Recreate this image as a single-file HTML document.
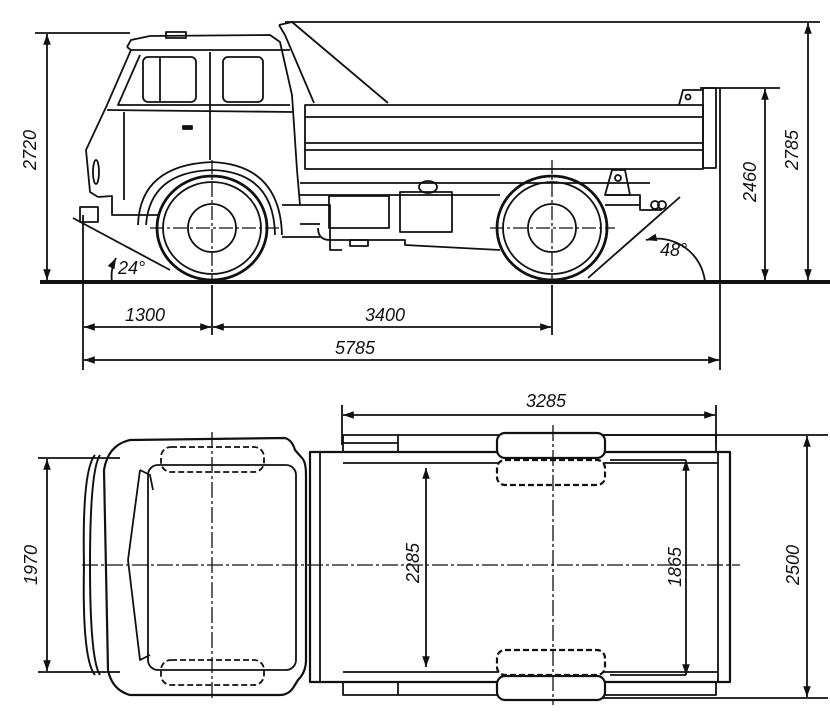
<!DOCTYPE html>
<html><head><meta charset="utf-8"><style>
html,body{margin:0;padding:0;background:#fff}
svg{display:block}
text{font-family:"Liberation Sans",sans-serif;font-style:italic;font-size:18px;fill:#111}
</style></head><body>
<svg width="830" height="722" viewBox="0 0 830 722" xmlns="http://www.w3.org/2000/svg">
<defs>
<marker id="a" viewBox="0 0 10 10" refX="10" refY="5" markerWidth="9" markerHeight="6" orient="auto-start-reverse"><path d="M0,1.5 L10,5 L0,8.5 z" fill="#111"/></marker>
</defs>
<g stroke="#111" fill="none" stroke-width="1.8" stroke-linejoin="round">
<!-- ===== SIDE VIEW ===== -->
<line x1="40" y1="282" x2="830" y2="282" stroke-width="4"/>
<line x1="35" y1="33" x2="130" y2="33"/>
<line x1="285" y1="22" x2="820" y2="22"/>
<line x1="700" y1="88" x2="780" y2="88"/>
<line x1="720" y1="88" x2="720" y2="370"/>
<line x1="83" y1="215" x2="83" y2="370"/>
<line x1="212" y1="285" x2="212" y2="335"/>
<line x1="552" y1="285" x2="552" y2="335"/>
<line x1="47" y1="34" x2="47" y2="280" marker-start="url(#a)" marker-end="url(#a)"/>
<line x1="765" y1="89" x2="765" y2="280" marker-start="url(#a)" marker-end="url(#a)"/>
<line x1="808" y1="23" x2="808" y2="280" marker-start="url(#a)" marker-end="url(#a)"/>
<line x1="84" y1="327" x2="211" y2="327" marker-start="url(#a)" marker-end="url(#a)"/>
<line x1="213" y1="327" x2="551" y2="327" marker-start="url(#a)" marker-end="url(#a)"/>
<line x1="84" y1="360" x2="719" y2="360" marker-start="url(#a)" marker-end="url(#a)"/>
<!-- cab -->
<path d="M127,47 L131,40 L150,36 L270,35 L280,42 L292,95 L297,170 L300,205"/>
<path d="M131,50 L107,105 L86,150 L90,192 L98,197"/>
<path d="M127,47 L131,50 L290,50"/>
<rect x="166" y="32" width="20" height="6"/>
<path d="M140,55 L118,105 L290,105"/>
<path d="M107,110 L293,112"/>
<rect x="143" y="57" width="53" height="45" rx="5"/>
<rect x="223" y="57" width="40" height="45" rx="5"/>
<line x1="160" y1="58" x2="160" y2="101"/>
<line x1="210" y1="52" x2="210" y2="160"/>
<line x1="124" y1="112" x2="124" y2="200"/>
<rect x="183" y="126" width="9" height="3" fill="#111"/>
<ellipse cx="96" cy="172" rx="3" ry="12"/>
<path d="M98,197 L112,196 L112,215 L160,215"/>
<rect x="80" y="207" width="18" height="15"/>
<path d="M138,225 Q140,165 212,162 Q280,165 282,235"/>
<path d="M146,225 Q150,172 212,170 Q274,172 275,235"/>
<path d="M279,25 L292,22 L388,103 M279,25 L285,35 L314,103"/>
<rect x="305" y="105" width="398" height="64"/>
<line x1="305" y1="117" x2="703" y2="117"/>
<line x1="305" y1="143" x2="703" y2="143"/>
<line x1="305" y1="150" x2="703" y2="150"/>
<rect x="703" y="88" width="13" height="80"/>
<path d="M679,105 L683,90 L703,90"/>
<circle cx="688" cy="97" r="2.5"/>
<path d="M300,183 L650,183 M300,195 L500,195 M282,205 L330,205 L330,250 L342,250 M282,237 L320,237 M300,224 L320,224"/>
<rect x="329" y="196" width="60" height="32"/>
<rect x="400" y="192" width="52" height="40"/>
<ellipse cx="428" cy="187" rx="9" ry="6"/>
<path d="M318,228 Q318,240 330,240 L405,240 L405,245 L500,250"/>
<rect x="350" y="240" width="18" height="6"/>
<path d="M605,195 L640,195 L640,210 L662,210 M605,205 L640,205"/>
<path d="M605,195 L612,170 L625,170 L630,195 Z"/>
<circle cx="618" cy="178" r="3"/>
<circle cx="655" cy="205" r="4"/>
<circle cx="662" cy="205" r="4"/>
<ellipse cx="212" cy="228" rx="55" ry="52" stroke-width="2.8"/>
<ellipse cx="212" cy="228" rx="49" ry="46"/>
<ellipse cx="212" cy="228" rx="24" ry="24"/>
<ellipse cx="552" cy="228" rx="55" ry="52" stroke-width="2.8"/>
<ellipse cx="552" cy="228" rx="49" ry="46"/>
<ellipse cx="552" cy="228" rx="24" ry="24"/>
<g stroke-dasharray="14,3,3,3" stroke-width="1.3">
<line x1="150" y1="228" x2="280" y2="228"/>
<line x1="490" y1="228" x2="615" y2="228"/>
<line x1="212" y1="160" x2="212" y2="282"/>
<line x1="552" y1="160" x2="552" y2="282"/>
</g>
<line x1="73" y1="218" x2="170" y2="270"/>
<line x1="680" y1="197" x2="588" y2="278"/>
<path d="M112,282 A40,40 0 0 1 116,258" marker-end="url(#a)"/>
<path d="M705,282 A48,48 0 0 0 646,240" marker-end="url(#a)"/>

<!-- ===== TOP VIEW ===== -->
<line x1="342" y1="405" x2="342" y2="445"/>
<line x1="716" y1="405" x2="716" y2="445"/>
<line x1="343" y1="415" x2="715" y2="415" marker-start="url(#a)" marker-end="url(#a)"/>
<line x1="38" y1="458" x2="120" y2="458"/>
<line x1="38" y1="672" x2="120" y2="672"/>
<line x1="47" y1="459" x2="47" y2="671" marker-start="url(#a)" marker-end="url(#a)"/>
<line x1="600" y1="435" x2="828" y2="435"/>
<line x1="600" y1="698" x2="828" y2="698"/>
<line x1="807" y1="436" x2="807" y2="697" marker-start="url(#a)" marker-end="url(#a)"/>
<line x1="426" y1="468" x2="426" y2="667" marker-start="url(#a)" marker-end="url(#a)"/>
<line x1="686" y1="460" x2="686" y2="675" marker-start="url(#a)" marker-end="url(#a)"/>
<line x1="686" y1="460" x2="610" y2="460"/>
<line x1="686" y1="675" x2="610" y2="675"/>
<path d="M130,440 L285,438 Q292,440 295,450 L302,458 Q306,462 306,475 L306,660 Q306,672 298,680 L293,688 Q288,695 280,695 L130,695 Q112,690 108,670 L104,470 Q108,445 130,440 Z" stroke-width="2.2"/>
<rect x="148" y="465" width="148" height="205" rx="10"/>
<path d="M140,470 L150,475 L153,490 M140,470 L128,560 L140,660 L150,655"/>
<path d="M95,455 Q82,470 84,565 Q82,660 95,675 M100,455 Q90,470 90,565 Q90,660 100,675" stroke-width="2"/>
<rect x="161" y="447" width="103" height="25" rx="10" stroke-dasharray="6,3"/>
<rect x="161" y="660" width="103" height="25" rx="10" stroke-dasharray="6,3"/>
<rect x="310" y="452" width="420" height="230" stroke-width="2.2"/>
<rect x="320" y="452" width="398" height="230"/>
<line x1="343" y1="463" x2="718" y2="463"/>
<line x1="343" y1="672" x2="718" y2="672"/>
<rect x="343" y="435" width="373" height="17"/>
<rect x="343" y="682" width="373" height="13"/>
<line x1="343" y1="443" x2="398" y2="443"/>
<line x1="398" y1="435" x2="398" y2="452"/>
<line x1="398" y1="682" x2="398" y2="695"/>
<g fill="#fff" stroke-width="2.2">
<rect x="497" y="433" width="108" height="25" rx="8"/>
<rect x="497" y="460" width="108" height="25" rx="8" stroke-dasharray="6,3"/>
<rect x="497" y="650" width="108" height="25" rx="8" stroke-dasharray="6,3"/>
<rect x="497" y="676" width="108" height="24" rx="8"/>
</g>
<g stroke-dasharray="16,3,3,3" stroke-width="1.3">
<line x1="82" y1="565" x2="740" y2="565"/>
<line x1="212" y1="432" x2="212" y2="700"/>
<line x1="553" y1="425" x2="553" y2="705"/>
</g>
</g>
<text transform="translate(36,150) rotate(-90)" text-anchor="middle">2720</text>
<text transform="translate(756,182) rotate(-90)" text-anchor="middle">2460</text>
<text transform="translate(798,150) rotate(-90)" text-anchor="middle">2785</text>
<text x="145" y="321" text-anchor="middle">1300</text>
<text x="385" y="321" text-anchor="middle">3400</text>
<text x="355" y="354" text-anchor="middle">5785</text>
<text x="118" y="274">24°</text>
<text x="660" y="256">48°</text>
<text x="546" y="407" text-anchor="middle">3285</text>
<text transform="translate(37,565) rotate(-90)" text-anchor="middle">1970</text>
<text transform="translate(419,563) rotate(-90)" text-anchor="middle">2285</text>
<text transform="translate(681,567) rotate(-90)" text-anchor="middle">1865</text>
<text transform="translate(799,565) rotate(-90)" text-anchor="middle">2500</text>
</svg>
</body></html>
